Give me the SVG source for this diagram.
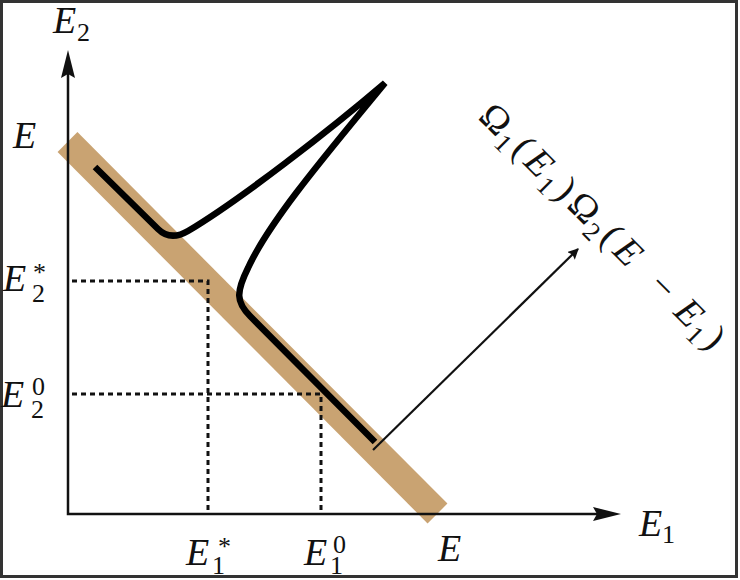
<svg xmlns="http://www.w3.org/2000/svg" width="740" height="580" viewBox="0 0 740 580">
<defs>
<style>
.lbl{font-family:"Liberation Serif","DejaVu Serif",serif;font-size:38px;fill:#111;}
.it{font-style:italic;}
.sub{font-size:26px;font-style:normal;}
.axis{stroke:#111;stroke-width:2.5;fill:none;}
.dot{stroke:#111;stroke-width:3;stroke-dasharray:5 4;fill:none;}
</style>
<marker id="ah" viewBox="0 0 10 10" refX="9" refY="5" markerWidth="5" markerHeight="5" orient="auto" markerUnits="strokeWidth">
<path d="M0,0 L10,5 L0,10 L2,5 Z" fill="#111"/>
</marker>
</defs>
<rect x="0" y="0" width="740" height="580" fill="#fff"/>
<rect x="1.5" y="1.5" width="735" height="575" fill="none" stroke="#333" stroke-width="3"/>

<g id="band">
<line x1="67.5" y1="142" x2="437.5" y2="513.5" stroke="#c9a372" stroke-width="28"/>
</g>

<g id="guides">
<path class="dot" d="M72,281 H208 V512"/>
<path class="dot" d="M72,394 H321 V512"/>
</g>

<g id="axes">
<path class="axis" d="M68,72 V514 H600"/>
<path d="M68,50 L75,78 L68,74 L61,78 Z" fill="#111"/>
<path d="M621,514 L593,507 L597,514 L593,521 Z" fill="#111"/>
</g>

<g id="curve">
<path d="M95,167 L158,229 C166,237 176,238 188,231 C240,200 330,130 385,83 C330,150 270,220 248,268 C236,292 236,302 250,316 L375,442" fill="none" stroke="#000" stroke-width="6.5"/>
</g>

<g id="connectors">
<line x1="373" y1="450" x2="578" y2="249" stroke="#111" stroke-width="2.2" marker-end="url(#ah)"/>
</g>

<g id="label-E2"><text class="lbl"><tspan class="it" x="53" y="33">E</tspan><tspan class="sub" x="77" y="41">2</tspan></text></g>
<g id="label-E-left"><text class="lbl"><tspan class="it" x="13" y="148">E</tspan></text></g>
<g id="label-E2star"><text class="lbl"><tspan class="it" x="3" y="291">E</tspan><tspan class="sub" x="32" y="302">2</tspan><tspan class="sub" x="33" y="281">*</tspan></text></g>
<g id="label-E20"><text class="lbl"><tspan class="it" x="1" y="407">E</tspan><tspan class="sub" x="31" y="418">2</tspan><tspan class="sub" x="32" y="395">0</tspan></text></g>
<g id="label-E1star"><text class="lbl"><tspan class="it" x="186" y="565">E</tspan><tspan class="sub" x="212" y="574">1</tspan><tspan class="sub" x="218" y="555">*</tspan></text></g>
<g id="label-E10"><text class="lbl"><tspan class="it" x="304" y="565">E</tspan><tspan class="sub" x="330" y="574">1</tspan><tspan class="sub" x="333" y="553">0</tspan></text></g>
<g id="label-E-bottom"><text class="lbl"><tspan class="it" x="438" y="561">E</tspan></text></g>
<g id="label-E1"><text class="lbl"><tspan class="it" x="639" y="536">E</tspan><tspan class="sub" x="662" y="543">1</tspan></text></g>

<g id="label-omega">
<text class="lbl" transform="translate(477,118) rotate(45)" font-size="40"><tspan x="0" y="0">Ω</tspan><tspan class="sub" x="30" y="8">1</tspan><tspan x="47" y="0">(</tspan><tspan class="it" x="64" y="0">E</tspan><tspan class="sub" x="90" y="8">1</tspan><tspan x="107" y="0">)</tspan><tspan x="125" y="0">Ω</tspan><tspan class="sub" x="155" y="8">2</tspan><tspan x="172" y="0">(</tspan><tspan class="it" x="190" y="0">E</tspan><tspan x="240" y="0">−</tspan><tspan class="it" x="276" y="0">E</tspan><tspan class="sub" x="301" y="8">1</tspan><tspan x="318" y="0">)</tspan></text>
</g>
</svg>
